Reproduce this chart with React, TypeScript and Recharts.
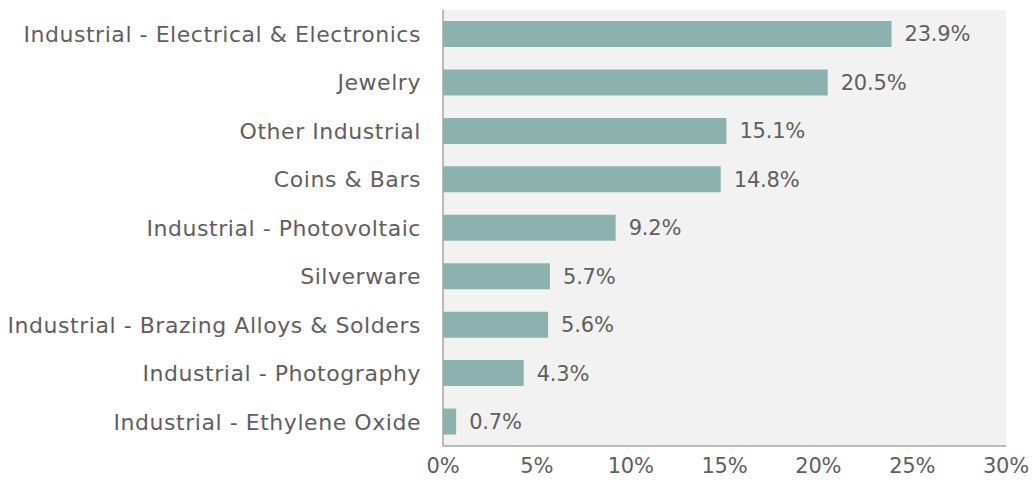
import { Bar, BarChart, CartesianGrid, LabelList, XAxis, YAxis } from "recharts";

const categories = [
  "Industrial - Electrical & Electronics",
  "Jewelry",
  "Other Industrial",
  "Coins & Bars",
  "Industrial - Photovoltaic",
  "Silverware",
  "Industrial - Brazing Alloys & Solders",
  "Industrial - Photography",
  "Industrial - Ethylene Oxide",
];
const shares = [23.9, 20.5, 15.1, 14.8, 9.2, 5.7, 5.6, 4.3, 0.7];
const xTicks = [0, 5, 10, 15, 20, 25, 30];

const data = categories.map((name, i) => ({ name, value: shares[i] }));

const font = "'DejaVu Sans', sans-serif";
const textColor = "#5f5f5f";
const nameStyle = { fill: textColor, fontSize: 22, fontFamily: font, letterSpacing: 0.55 };
const numStyle = { fill: textColor, fontSize: 21, fontFamily: font, letterSpacing: -0.2 };

const App = () => {
  return (
    <div style={{ position: "absolute", left: 0, top: 0 }}>
      <BarChart
        width={1033}
        height={489}
        data={data}
        layout="vertical"
        margin={{ top: 10, right: 27, left: 0, bottom: 0 }}
        barCategoryGap={11}
      >
        <CartesianGrid fill="#f2f2f2" horizontal={false} vertical={false} />
        <XAxis
          type="number"
          domain={[0, 30]}
          ticks={xTicks}
          tickFormatter={(v) => `${v}%`}
          height={43}
          tickLine={false}
          tickSize={0}
          tickMargin={12}
          axisLine={{ stroke: "#a6a6a6", strokeWidth: 1.5 }}
          tick={numStyle}
        />
        <YAxis
          type="category"
          dataKey="name"
          width={443}
          tickLine={false}
          tickSize={0}
          tickMargin={22}
          axisLine={{ stroke: "#a6a6a6", strokeWidth: 1.5 }}
          tick={nameStyle}
          interval={0}
        />
        <Bar dataKey="value" fill="#8cb2b0" barSize={26} isAnimationActive={false}>
          <LabelList
            dataKey="value"
            position="right"
            offset={13}
            formatter={(v: number) => `${v.toFixed(1)}%`}
            style={numStyle}
          />
        </Bar>
      </BarChart>
    </div>
  );
};

export default App;
